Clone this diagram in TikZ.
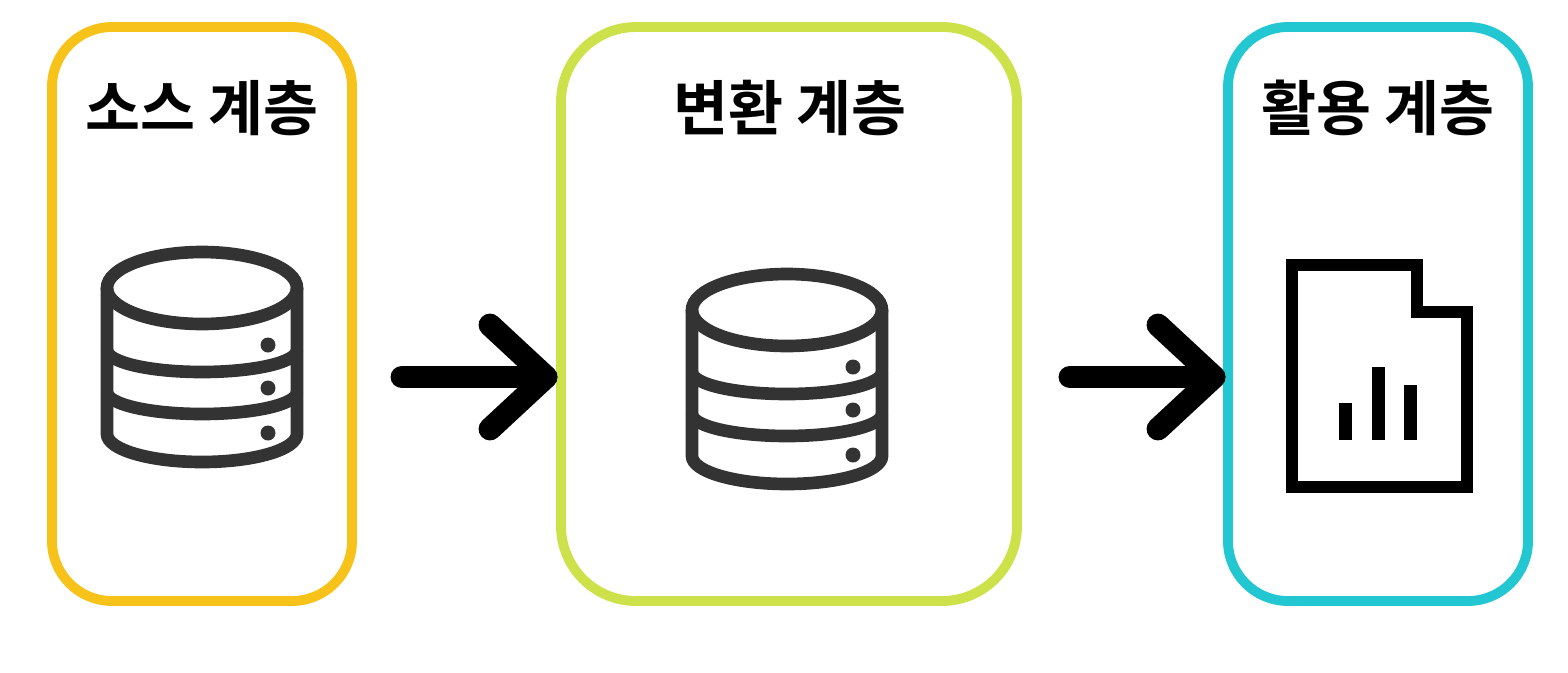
\documentclass[tikz,border=0pt]{standalone}
\usepackage{fontspec}
\newfontfamily\kr{Noto Sans CJK KR}[BoldFont={Noto Sans CJK KR Bold}]
\usetikzlibrary{positioning, calc}

\definecolor{layerSrc}{HTML}{F7C31A}
\definecolor{layerTrans}{HTML}{CDE24A}
\definecolor{layerUse}{HTML}{22C7D2}
\definecolor{iconGray}{HTML}{333333}

\tikzset{
  layer/.style={line width=7pt*0.4, rounded corners=60*0.01cm},
  title/.style={font=\kr\bfseries\fontsize{17}{20}\selectfont},
  dbline/.style={draw=iconGray, line width=3.6pt},
  dot/.style={fill=iconGray},
  flow/.style={line width=6.5pt, line cap=round, line join=round},
}

% database icon: centre x, top y
\newcommand{\dbicon}[3]{%
  \begin{scope}[shift={(#1,#2)}, yscale=-1]
    \draw[dbline] (0,0) ellipse (95 and 36);
    \draw[dbline] (-95,0) -- (-95,-146) arc (180:360:95 and 28) -- (95,0);
    \draw[dbline] (-95,-62) arc (180:360:95 and 22);
    \draw[dbline] (-95,-104) arc (180:360:95 and 22);
    \foreach \dy in {-57,-100,-145} \fill[dot] (66,\dy) circle (7.5);
    \coordinate (#3) at (0,-75);
  \end{scope}}

\begin{document}
\begin{tikzpicture}[x=0.01cm, y=-0.01cm]

% Manually size the picture
\useasboundingbox (0,0) rectangle (1568,672);

% Layer boxes
\node[draw=layerSrc, layer, minimum width=300*0.01cm, minimum height=574*0.01cm] (src) at (202,314) {};
\node[draw=layerTrans, layer, rounded corners=75*0.01cm, minimum width=456*0.01cm, minimum height=574*0.01cm] (trans) at (789,314) {};
\node[draw=layerUse, layer, minimum width=300*0.01cm, minimum height=574*0.01cm] (use) at (1378,314) {};

% Titles
\node[title] (srcT) at (202,108) {소스 계층};
\node[title] (transT) at (790,108) {변환 계층};
\node[title] (useT) at (1378,108) {활용 계층};

% Database icons
\dbicon{202}{288}{srcDb}
\dbicon{787}{310}{transDb}

% Report icon
\draw[dbline, draw=black, line width=3.4pt, line join=miter]
  (1292,265) -- (1417,265) -- (1417,312) -- (1467,312) -- (1467,487) -- (1292,487) -- cycle;
\coordinate (useDoc) at (1380,376);
\fill[black] (1339,403) rectangle (1352,440);
\fill[black] (1372,367) rectangle (1385,440);
\fill[black] (1404,385) rectangle (1417,440);

% Flow arrows
\coordinate (a1s) at (402,377);
\coordinate (a1e) at (546,377);
\draw[flow] (a1s) -- (a1e);
\draw[flow] ($(a1e)+(-56,-52)$) -- (a1e) -- ($(a1e)+(-56,52)$);

\coordinate (a2s) at (1070,377);
\coordinate (a2e) at (1214,377);
\draw[flow] (a2s) -- (a2e);
\draw[flow] ($(a2e)+(-56,-52)$) -- (a2e) -- ($(a2e)+(-56,52)$);

\end{tikzpicture}
\end{document}
